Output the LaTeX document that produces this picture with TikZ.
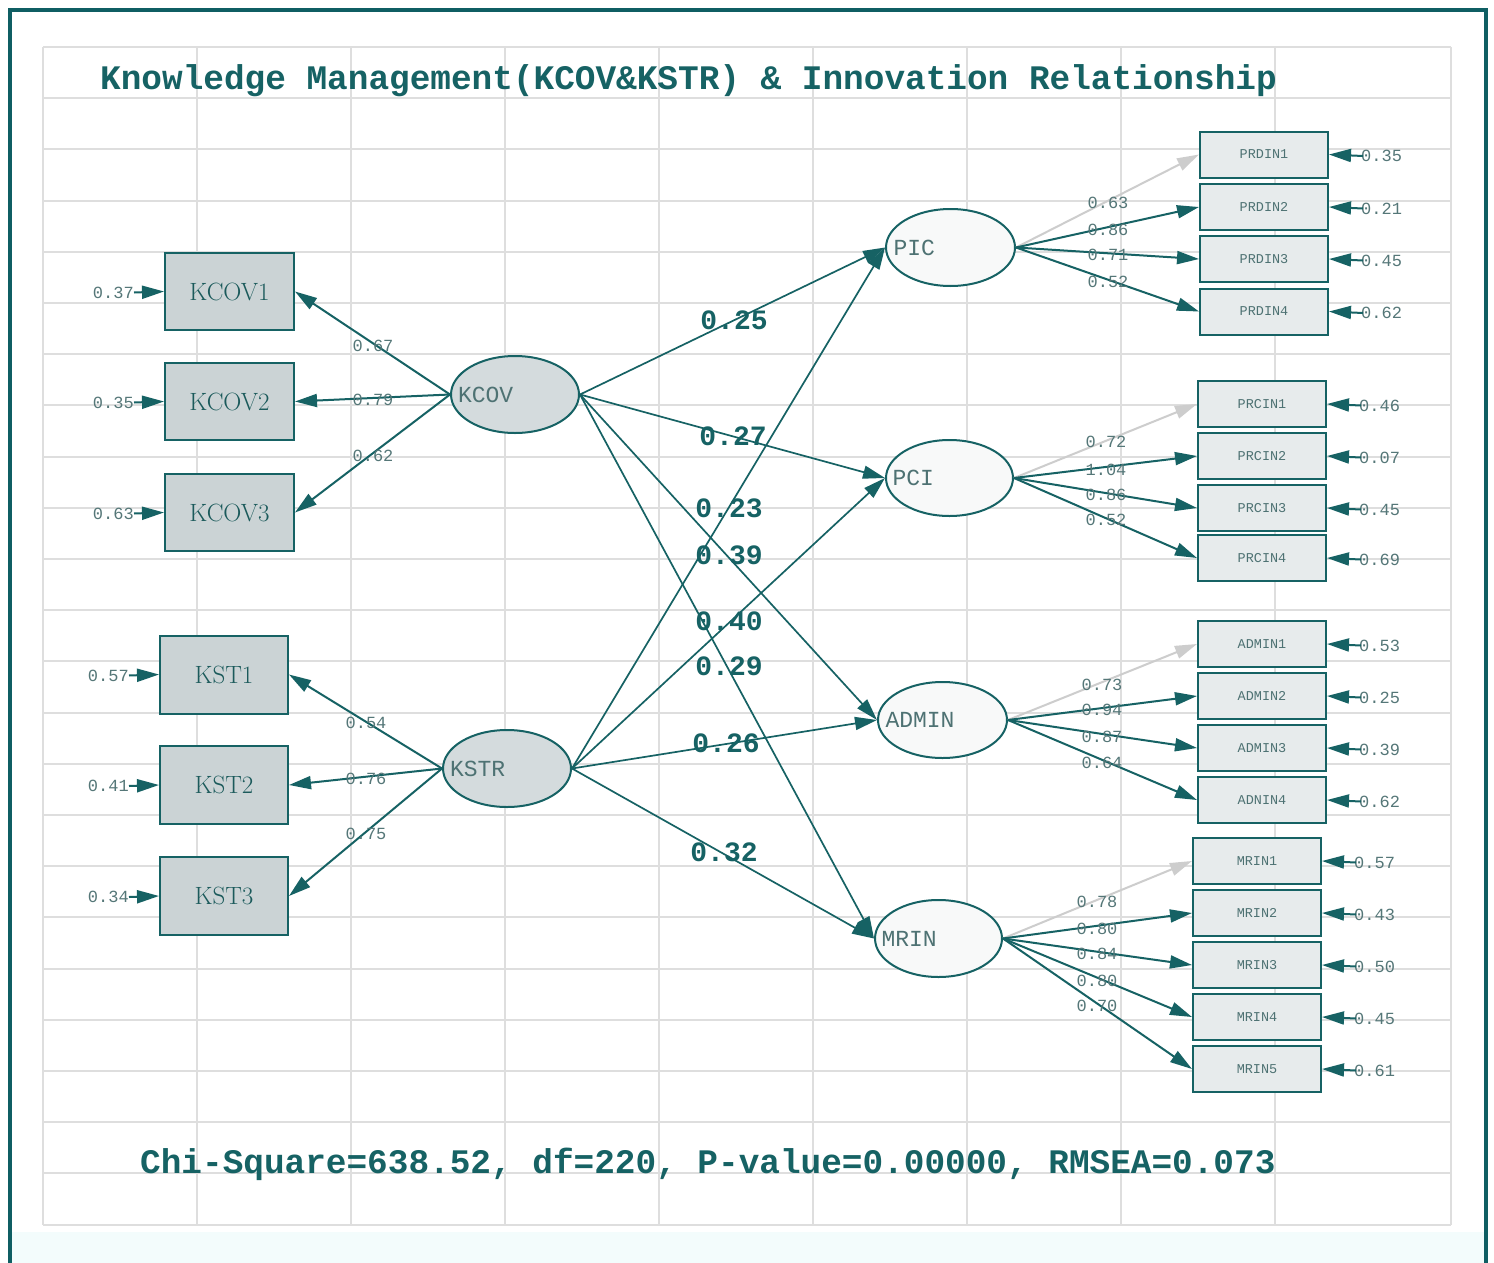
\documentclass[tikz,border=0pt]{standalone}
\usepackage{fontspec}
\setmonofont{Liberation Mono}
\usetikzlibrary{arrows.meta,shapes.geometric}
\definecolor{tealc}{HTML}{166264}
\definecolor{framec}{HTML}{0F5E63}
\definecolor{gridc}{HTML}{DEDEDE}
\definecolor{lboxfill}{HTML}{CBD3D5}
\definecolor{llatfill}{HTML}{D4DBDD}
\definecolor{rboxfill}{HTML}{E7EBEC}
\definecolor{rlatfill}{HTML}{F8F9F9}
\definecolor{graytext}{HTML}{4E7273}
\definecolor{boxtext}{HTML}{1B5A5B}
\definecolor{numc}{HTML}{557778}
\definecolor{lightarr}{HTML}{CDCDCD}
\definecolor{tintc}{HTML}{F3FCFC}
\newcommand{\latxt}[1]{\makebox[0pt][l]{\hspace*{-57pt}#1}}
\begin{document}
\begin{tikzpicture}[x=1pt,y=-1pt,
  >={Triangle[length=22pt,width=13pt]},
  lbox/.style={draw=tealc, line width=2pt, fill=lboxfill, minimum width=129pt, minimum height=77pt, inner sep=0pt, font=\fontsize{25}{25}\selectfont, text=boxtext},
  rbox/.style={draw=tealc, line width=2pt, fill=rboxfill, minimum width=128pt, minimum height=46pt, inner sep=0pt, font=\ttfamily\fontsize{13.5}{13.5}\selectfont, text=graytext},
  llat/.style={ellipse, draw=tealc, line width=2pt, fill=llatfill, minimum width=128pt, minimum height=77pt, inner sep=0pt, font=\ttfamily\fontsize{23}{23}\selectfont, text=graytext},
  rlat/.style={ellipse, draw=tealc, line width=2pt, fill=rlatfill, minimum width=128pt, minimum height=77pt, inner sep=0pt, font=\ttfamily\fontsize{23}{23}\selectfont, text=graytext},
  num/.style={font=\ttfamily\fontsize{17}{17}\selectfont, text=numc, inner sep=0pt},
  snum/.style={font=\ttfamily\bfseries\fontsize{28}{28}\selectfont, text=tealc, inner sep=0pt},
  arr/.style={draw=tealc, line width=2pt, ->},
  sarr/.style={draw=tealc, line width=1.7pt, ->},
  larr/.style={draw=lightarr, line width=2pt, ->},
  gridline/.style={draw=gridc, line width=2pt}
]
\useasboundingbox (0,0) rectangle (1494,1263);
\fill[white] (0,0) rectangle (1494,1263);
\fill[tintc] (12,1232) rectangle (1484,1263);
% grid
\foreach \k in {0,...,8} { \draw[gridline] ({43+154*\k},47) -- ({43+154*\k},1225); }
\draw[gridline] (1451,47) -- (1451,1225);
\foreach \k in {0,...,23} { \draw[gridline] (43,{47+51.2*\k}) -- (1451,{47+51.2*\k}); }
% frame
\draw[framec, line width=4.5pt] (10,1275) -- (10,10) -- (1486,10) -- (1486,1275);
% title
\node[anchor=west, inner sep=0pt, text=tealc, font=\ttfamily\bfseries\fontsize{34.4}{34.4}\selectfont] (title) at (100,81) {Knowledge Management(KCOV\&KSTR) \& Innovation Relationship};
\node[anchor=west, inner sep=0pt, text=tealc, font=\ttfamily\bfseries\fontsize{34.4}{34.4}\selectfont] (fit) at (140,1164) {Chi-Square=638.52, df=220, P-value=0.00000, RMSEA=0.073};

% left indicator boxes
\node[lbox] (kcov1) at (229.5,291.5) {KCOV1};
\node[lbox] (kcov2) at (229.5,401.5) {KCOV2};
\node[lbox] (kcov3) at (229.5,512.5) {KCOV3};
\node[lbox, minimum width=128pt, minimum height=78pt] (kst1) at (224,674.5) {KST1};
\node[lbox, minimum width=128pt, minimum height=78pt] (kst2) at (224,785) {KST2};
\node[lbox, minimum width=128pt, minimum height=78pt] (kst3) at (224,896) {KST3};

% latent variables
\node[llat] (KCOV) at (515,394.5) {\latxt{KCOV}};
\node[llat] (KSTR) at (507,768.5) {\latxt{KSTR}};
\node[rlat, minimum width=129pt] (PIC) at (950.5,247.5) {\latxt{PIC}};
\node[rlat, minimum width=127pt, minimum height=76pt] (PCI) at (949.5,478) {\latxt{PCI}};
\node[rlat, minimum width=129pt, minimum height=76pt] (ADMIN) at (942.5,720) {\latxt{ADMIN}};
\node[rlat, minimum width=127pt] (MRIN) at (938.5,938.5) {\latxt{MRIN}};

% right indicator boxes
\foreach \n/\y in {1/154.5,2/207,3/259,4/311.5} { \node[rbox] (prdin\n) at (1264,\y) {PRDIN\n}; }
\foreach \n/\y in {1/404,2/456,3/508,4/558} { \node[rbox] (prcin\n) at (1262,\y) {PRCIN\n}; }
\node[rbox] (admin1) at (1262,644) {ADMIN1};
\node[rbox] (admin2) at (1262,696) {ADMIN2};
\node[rbox] (admin3) at (1262,748) {ADMIN3};
\node[rbox] (admin4) at (1262,800) {ADNIN4};
\foreach \n/\y in {1/861,2/913,3/965,4/1017,5/1069} { \node[rbox] (mrin\n) at (1257,\y) {MRIN\n}; }

% left error terms
\node[num, anchor=east] (ekcov1) at (134,292.5) {0.37};
\node[num, anchor=east] (ekcov2) at (134,402.5) {0.35};
\node[num, anchor=east] (ekcov3) at (134,513.5) {0.63};
\node[num, anchor=east] (ekst1) at (129,675.5) {0.57};
\node[num, anchor=east] (ekst2) at (129,786) {0.41};
\node[num, anchor=east] (ekst3) at (129,897) {0.34};
\foreach \b in {kcov1,kcov2,kcov3,kst1,kst2,kst3} { \draw[arr] (e\b.east) -- (\b.west); }

% right error terms
\node[num, anchor=west] (eprdin1) at (1361,156) {0.35};
\node[num, anchor=west] (eprdin2) at (1361,208.5) {0.21};
\node[num, anchor=west] (eprdin3) at (1361,260.5) {0.45};
\node[num, anchor=west] (eprdin4) at (1361,313) {0.62};
\node[num, anchor=west] (eprcin1) at (1359,405.5) {0.46};
\node[num, anchor=west] (eprcin2) at (1359,457.5) {0.07};
\node[num, anchor=west] (eprcin3) at (1359,509.5) {0.45};
\node[num, anchor=west] (eprcin4) at (1359,559.5) {0.69};
\node[num, anchor=west] (eadmin1) at (1359,645.5) {0.53};
\node[num, anchor=west] (eadmin2) at (1359,697.5) {0.25};
\node[num, anchor=west] (eadmin3) at (1359,749.5) {0.39};
\node[num, anchor=west] (eadmin4) at (1359,801.5) {0.62};
\node[num, anchor=west] (emrin1) at (1354,862.5) {0.57};
\node[num, anchor=west] (emrin2) at (1354,914.5) {0.43};
\node[num, anchor=west] (emrin3) at (1354,966.5) {0.50};
\node[num, anchor=west] (emrin4) at (1354,1018.5) {0.45};
\node[num, anchor=west] (emrin5) at (1354,1070.5) {0.61};
\foreach \b in {prdin1,prdin2,prdin3,prdin4,prcin1,prcin2,prcin3,prcin4,admin1,admin2,admin3,admin4,mrin1,mrin2,mrin3,mrin4,mrin5} { \draw[arr] ([xshift=2pt]e\b.west) -- (\b.east); }

% left loadings
\foreach \b in {kcov1,kcov2,kcov3} { \draw[arr] (KCOV.west) -- (\b.east); }
\foreach \b in {kst1,kst2,kst3} { \draw[arr] (KSTR.west) -- (\b.east); }
\node[num] (lk1) at (373,346) {0.67};
\node[num] (lk2) at (373,400) {0.79};
\node[num] (lk3) at (373,456) {0.62};
\node[num] (ls1) at (366,723) {0.54};
\node[num] (ls2) at (366,779) {0.76};
\node[num] (ls3) at (366,834) {0.75};

% structural paths
\draw[sarr] (KCOV.east) -- (PIC.west);
\draw[sarr] (KCOV.east) -- (PCI.west);
\draw[sarr] (KCOV.east) -- (ADMIN.west);
\draw[sarr] (KCOV.east) -- (MRIN.west);
\draw[sarr] (KSTR.east) -- (PIC.west);
\draw[sarr] (KSTR.east) -- (PCI.west);
\draw[sarr] (KSTR.east) -- (ADMIN.west);
\draw[sarr] (KSTR.east) -- (MRIN.west);
\node[snum] (g1) at (734,320) {0.25};
\node[snum] (g2) at (733,436) {0.27};
\node[snum] (g3) at (729,508) {0.23};
\node[snum] (g4) at (729,555) {0.39};
\node[snum] (g5) at (729,621) {0.40};
\node[snum] (g6) at (729,666) {0.29};
\node[snum] (g7) at (726,743) {0.26};
\node[snum] (g8) at (724,852) {0.32};

% right loadings
\draw[larr] (PIC.east) -- (prdin1.west);
\foreach \b in {prdin2,prdin3,prdin4} { \draw[arr] (PIC.east) -- (\b.west); }
\draw[larr] (PCI.east) -- (prcin1.west);
\foreach \b in {prcin2,prcin3,prcin4} { \draw[arr] (PCI.east) -- (\b.west); }
\draw[larr] (ADMIN.east) -- (admin1.west);
\foreach \b in {admin2,admin3,admin4} { \draw[arr] (ADMIN.east) -- (\b.west); }
\draw[larr] (MRIN.east) -- (mrin1.west);
\foreach \b in {mrin2,mrin3,mrin4,mrin5} { \draw[arr] (MRIN.east) -- (\b.west); }

\node[num] (lp1) at (1108,203) {0.63};
\node[num] (lp2) at (1108,230) {0.86};
\node[num] (lp3) at (1108,255) {0.71};
\node[num] (lp4) at (1108,282) {0.52};
\node[num] (lc1) at (1106,442) {0.72};
\node[num] (lc2) at (1106,470) {1.04};
\node[num] (lc3) at (1106,495) {0.86};
\node[num] (lc4) at (1106,520) {0.52};
\node[num] (la1) at (1102,685) {0.73};
\node[num] (la2) at (1102,710) {0.94};
\node[num] (la3) at (1102,737) {0.87};
\node[num] (la4) at (1102,763) {0.64};
\node[num] (lm1) at (1097,902) {0.78};
\node[num] (lm2) at (1097,929) {0.80};
\node[num] (lm3) at (1097,954) {0.84};
\node[num] (lm4) at (1097,981) {0.80};
\node[num] (lm5) at (1097,1006) {0.70};
\end{tikzpicture}
\end{document}
